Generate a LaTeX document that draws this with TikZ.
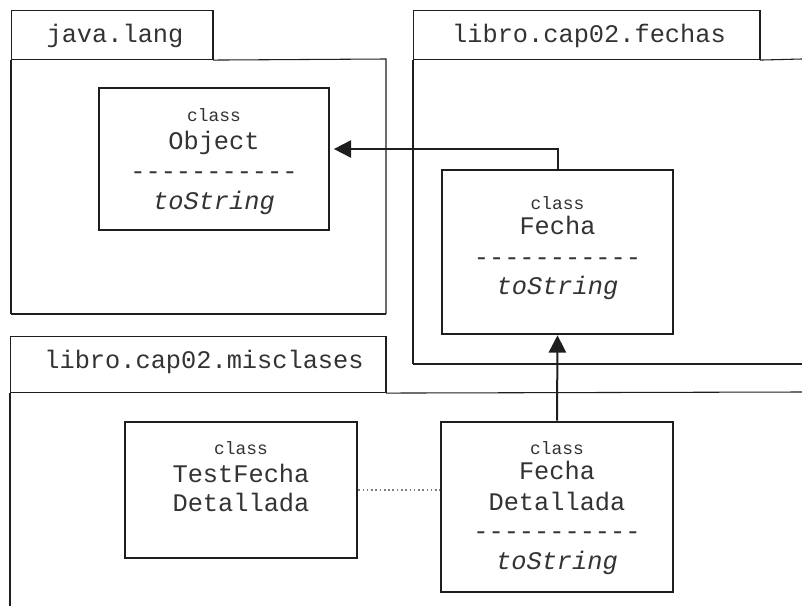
\documentclass[tikz,border=0pt]{standalone}
\usepackage{fontspec}
\newfontfamily\cour{Liberation Mono}
\usetikzlibrary{arrows.meta}
\definecolor{lc}{HTML}{1E1E1E}
\definecolor{tc}{HTML}{333333}
\newcommand\clsword[1]{{\fontsize{13.4}{16}\selectfont #1}}
\tikzset{
  pkgline/.style={draw=lc, line width=0.8pt},
  pkgbottom/.style={draw=lc, line width=1.5pt},
  tabbox/.style={draw=lc, line width=0.8pt, inner sep=0pt, text=tc,
    font=\cour\fontsize{19}{22}\selectfont},
  clsbox/.style={draw=lc, fill=white, inner sep=0pt, line width=2pt},
  clstext/.style={align=center, text=tc, inner sep=0pt,
    font=\cour\fontsize{19}{22}\selectfont},
  arr/.style={draw=lc, line width=1.5pt, -{Triangle[length=13pt,width=13pt]}},
  dotline/.style={draw=gray, line width=1.2pt, dotted},
}
\begin{document}
\begin{tikzpicture}[x=0.75pt,y=-0.75pt]
\useasboundingbox (0,0) rectangle (802,606);

% ---- package java.lang
\node[tabbox, minimum width=150.75pt, minimum height=36.75pt, anchor=north west] (tabjava) at (11,10) {};
\node[tabbox, draw=none] (tabjavaT) at (115,36) {java.lang};
\draw[pkgline] (tabjava.south west) -- (11,314);
\draw[pkgline] (tabjava.south east) -- (386,59) -- (386,314);
\draw[pkgbottom] (11,314) -- (386,314);
\draw[pkgbottom] (tabjava.north east) -- (tabjava.south east);

% ---- package libro.cap02.fechas
\node[tabbox, minimum width=259.5pt, minimum height=36.75pt, anchor=north west] (tabfech) at (413,10) {};
\node[tabbox, draw=none] (tabfechT) at (589,36) {libro.cap02.fechas};
\draw[pkgline] (tabfech.south west) -- (413,364);
\draw[pkgline] (tabfech.south east) -- (802,59);
\draw[pkgbottom] (413,364) -- (802,364);
\draw[pkgbottom] (tabfech.north east) -- (tabfech.south east);

% ---- package libro.cap02.misclases
\node[tabbox, minimum width=281.25pt, minimum height=42pt, anchor=north west] (tabmis) at (10,336) {};
\node[tabbox, draw=none] (tabmisT) at (204,362) {libro.cap02.misclases};
\draw[pkgline] (tabmis.south west) -- (10,606);
\draw[pkgline] (tabmis.south east) -- (802,392);
\draw[pkgbottom] (tabmis.north east) -- (tabmis.south east);

% ---- classes
\node[clsbox, line width=1.3pt, minimum width=172.5pt, minimum height=106.5pt] (obj) at (214,159) {};
\node[clstext] (objT) at (214,162) {\clsword{class}\\[-1pt] Object\\ -----------\\[1pt] \textit{toString}};

\node[clsbox, minimum width=173.25pt, minimum height=123pt] (fecha) at (557.5,252) {};
\node[clstext] (fechaT) at (557.5,248) {\clsword{class}\\[-3pt] Fecha\\[1pt] -----------\\ \textit{toString}};

\node[clsbox, minimum width=174pt, minimum height=102pt] (test) at (241,490) {};
\node[clstext] (testT) at (241,477) {\clsword{class}\\[-1pt] TestFecha\\ Detallada};

\node[clsbox, minimum width=174pt, minimum height=127.5pt] (fdet) at (557,507) {};
\node[clstext] (fdetT) at (557,508) {\clsword{class}\\[-3pt] Fecha\\[1pt] Detallada\\ -----------\\ \textit{toString}};

% ---- connectors
\draw[arr] (fecha.north) |- ([xshift=3pt,yshift=7.5pt]obj.east);
\draw[arr] (fdet.north) -- (fecha.south);
\draw[dotline] (test.east) -- (test.east -| fdet.west);
\end{tikzpicture}
\end{document}
